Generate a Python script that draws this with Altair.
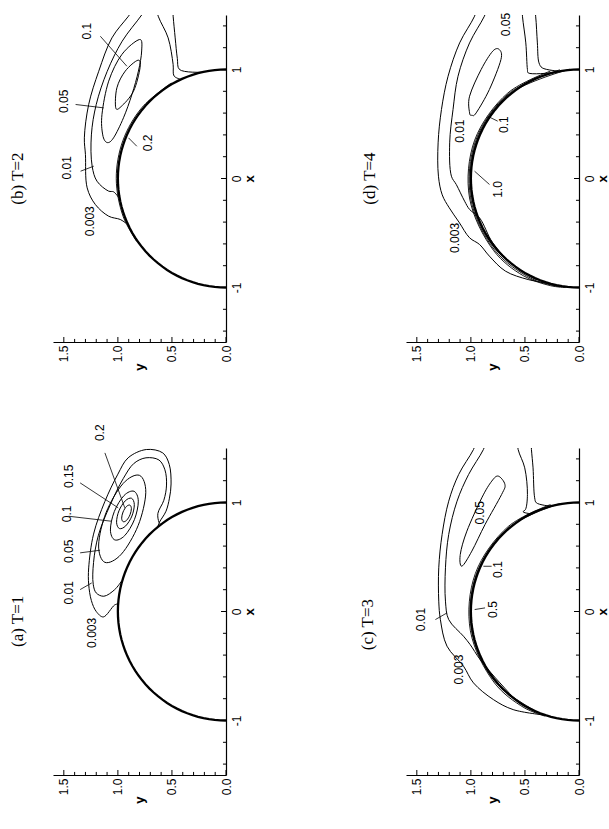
import math
import altair as alt
import pandas as pd

# ------------------------------------------------------------------
# Data: x = position along the flow axis, y = radial distance.
# Each contour is a list of (x, y) points.
# ------------------------------------------------------------------

# ---- (a) T=1 ----
a_003 = [(0.07, 1.00), (0.06, 1.03), (-0.05, 1.135), (0.0, 1.20), (0.10, 1.245), (0.25, 1.27),
         (0.40, 1.27), (0.71, 1.225), (1.01, 1.12), (1.26, 1.00), (1.41, 0.905), (1.486, 0.737),
         (1.455, 0.585), (1.35, 0.525), (1.17, 0.508), (1.04, 0.523), (0.92, 0.555), (0.82, 0.615),
         (0.78, 0.63)]
a_01 = [(0.28, 0.965), (0.20, 1.03), (0.14, 1.13), (0.17, 1.20), (0.25, 1.228), (0.45, 1.225),
        (0.70, 1.18), (0.98, 1.07), (1.22, 0.95), (1.36, 0.85), (1.41, 0.74), (1.39, 0.62),
        (1.30, 0.565), (1.16, 0.55), (1.02, 0.575), (0.90, 0.63), (0.82, 0.62), (0.80, 0.605)]
a_05 = [(1.249, 0.80), (1.174, 0.952), (0.91, 1.108), (0.61, 1.178), (0.451, 1.12),
        (0.526, 0.968), (0.79, 0.812), (1.09, 0.742)]
a_1 = [(1.103, 0.851), (1.064, 0.943), (0.917, 1.033), (0.748, 1.069), (0.657, 1.029),
       (0.696, 0.937), (0.843, 0.847), (1.012, 0.811)]
a_15 = [(1.039, 0.874), (1.015, 0.932), (0.924, 0.99), (0.819, 1.012), (0.761, 0.986),
        (0.785, 0.928), (0.876, 0.87), (0.981, 0.848)]
a_2 = [(0.976, 0.889), (0.963, 0.921), (0.913, 0.952), (0.856, 0.965), (0.824, 0.951),
       (0.837, 0.919), (0.887, 0.888), (0.944, 0.875)]

# ---- (b) T=2 ----
b_003 = [(-0.41, 0.925), (-0.376, 0.978), (-0.346, 1.085), (-0.239, 1.208), (-0.086, 1.284),
         (0.22, 1.30), (0.373, 1.31), (0.679, 1.27), (0.984, 1.177), (1.29, 1.055), (1.489, 0.902),
         (1.62, 0.80), (1.62, 0.50), (1.489, 0.489), (1.29, 0.47), (1.10, 0.45), (1.00, 0.43),
         (0.975, 0.22)]
b_01 = [(-0.178, 0.99), (-0.122, 1.04), (-0.116, 1.085), (-0.025, 1.193), (0.113, 1.238),
        (0.40, 1.245), (0.68, 1.20), (0.98, 1.10), (1.26, 0.96), (1.50, 0.78), (1.62, 0.70),
        (1.62, 0.66), (1.489, 0.627), (1.29, 0.535), (1.046, 0.489), (0.94, 0.48), (0.91, 0.42)]
b_05 = [(1.275, 0.80), (1.17, 0.78), (0.985, 0.81), (0.771, 0.87), (0.557, 0.948), (0.373, 1.04),
        (0.33, 1.10), (0.40, 1.14), (0.588, 1.147), (0.893, 1.085), (1.138, 0.963)]
b_1 = [(1.085, 0.815), (1.016, 0.795), (0.80, 0.856), (0.66, 0.97), (0.65, 1.02),
       (0.832, 1.009), (0.985, 0.932)]

# ---- (c) T=3 ----
c_003 = [(-0.95, 0.32), (-0.9, 0.609), (-0.808, 0.792), (-0.655, 0.976), (-0.502, 1.068),
         (-0.318, 1.221), (-0.074, 1.282), (0.095, 1.297), (0.401, 1.297), (0.707, 1.266),
         (1.012, 1.205), (1.257, 1.113), (1.486, 0.976), (1.62, 0.92), (1.62, 0.45),
         (1.486, 0.44), (1.318, 0.425), (1.043, 0.41), (0.997, 0.394), (0.966, 0.26)]
c_01 = [(-0.93, 0.37), (-0.838, 0.548), (-0.655, 0.731), (-0.44, 0.915), (-0.303, 1.007),
        (-0.227, 1.068), (-0.074, 1.205), (0.095, 1.235), (0.401, 1.235), (0.707, 1.205),
        (1.012, 1.128), (1.257, 1.021), (1.486, 0.884), (1.62, 0.83), (1.62, 0.58),
        (1.486, 0.563), (1.318, 0.502), (1.073, 0.477), (0.936, 0.495), (0.915, 0.517),
        (0.90, 0.47), (0.90, 0.436)]
c_05 = [(1.242, 0.746), (1.165, 0.685), (1.073, 0.716), (0.798, 0.869), (0.554, 0.991),
        (0.416, 1.083), (0.523, 1.098), (0.737, 1.037), (1.043, 0.899), (1.196, 0.807)]

# ---- (d) T=4 ----
d_003 = [(-0.96, 0.29), (-0.927, 0.47), (-0.85, 0.68), (-0.712, 0.829), (-0.605, 0.92),
         (-0.544, 1.012), (-0.40, 1.11), (-0.269, 1.20), (-0.15, 1.265), (0.021, 1.30),
         (0.327, 1.303), (0.633, 1.272), (0.938, 1.211), (1.244, 1.104), (1.489, 0.966),
         (1.62, 0.92), (1.62, 0.42), (1.489, 0.401), (1.244, 0.385), (1.061, 0.37),
         (1.015, 0.34), (0.984, 0.18)]
d_01 = [(-0.926, 0.40), (-0.789, 0.615), (-0.59, 0.798), (-0.361, 0.92), (-0.284, 1.012),
        (-0.208, 1.058), (-0.055, 1.135), (0.021, 1.18), (0.327, 1.196), (0.633, 1.165),
        (0.938, 1.119), (1.244, 1.012), (1.489, 0.875), (1.62, 0.82), (1.62, 0.53),
        (1.489, 0.523), (1.244, 0.492), (1.0, 0.477), (0.969, 0.47), (0.969, 0.263)]
d_05 = [(1.183, 0.737), (1.091, 0.722), (0.816, 0.829), (0.602, 0.951), (0.58, 0.99),
        (0.602, 1.012), (0.755, 1.012), (1.0, 0.905), (1.168, 0.798)]

# contours hugging the cylinder: (angle in degrees from +x, radius)
b_2_polar = [(30, 1.012), (50, 1.014), (70, 1.015), (90, 1.015), (110, 1.013), (125, 1.008)]
c_5_polar = [(10, 1.007), (40, 1.008), (70, 1.009), (100, 1.009), (130, 1.008), (160, 1.006)]
c_1_polar = [(15, 1.016), (40, 1.018), (70, 1.02), (100, 1.02), (130, 1.02), (150, 1.018), (162, 1.01)]
d_10_polar = [(5, 1.006), (40, 1.007), (70, 1.008), (100, 1.008), (130, 1.008), (160, 1.006), (176, 1.003)]
d_05_polar = [(10, 1.013), (40, 1.015), (70, 1.017), (100, 1.018), (130, 1.02), (155, 1.018), (170, 1.008)]
d_01_polar = [(15, 1.02), (40, 1.024), (70, 1.027), (100, 1.028), (130, 1.03), (150, 1.03), (165, 1.018), (173, 1.008)]

circle_angles = list(range(0, 181, 3))

# labels: (x, y, text)
labels = {
    "a": [(1.64, 1.165, "0.2"), (1.241, 1.456, "0.15"), (0.895, 1.47, "0.1"),
          (0.553, 1.456, "0.05"), (0.171, 1.456, "0.01"), (-0.196, 1.242, "0.003")],
    "b": [(1.351, 1.284, "0.1"), (0.709, 1.498, "0.05"), (0.327, 0.718, "0.2"),
          (0.098, 1.468, "0.01"), (-0.392, 1.254, "0.003")],
    "c": [(-0.074, 1.465, "0.01"), (-0.533, 1.114, "0.003"), (0.018, 0.792, "0.5"),
          (0.385, 0.747, "0.1"), (0.905, 0.915, "0.05")],
    "d": [(1.413, 0.675, "0.05"), (0.434, 1.104, "0.01"), (0.495, 0.691, "0.1"),
          (-0.101, 0.752, "1.0"), (-0.545, 1.149, "0.003")],
}
# leader lines: (x start, y start, x end, y end)
leaders = {
    "a": [(1.455, 1.12, 0.951, 0.936), (1.18, 1.349, 0.951, 0.997), (0.874, 1.456, 0.828, 1.059),
          (0.538, 1.349, 0.562, 1.165), (0.201, 1.349, 0.262, 1.242)],
    "b": [(1.305, 1.162, 1.03, 0.917), (0.679, 1.391, 0.648, 1.131), (0.296, 0.825, 0.373, 0.902),
          (0.067, 1.345, 0.113, 1.223)],
    "c": [(-0.074, 1.328, -0.013, 1.221), (0.033, 0.869, 0.018, 0.965), (0.415, 0.808, 0.415, 0.884)],
    "d": [(0.526, 0.752, 0.571, 0.844), (-0.055, 0.828, 0.067, 0.966)],
}
titles = {"a": (-0.09, 1.92, "(a) T=1"), "b": (0.0, 1.92, "(b) T=2"),
          "c": (-0.12, 1.95, "(c) T=3"), "d": (0.0, 1.93, "(d) T=4")}

x_ticks = [-1.4, -1.2, -1.0, -0.8, -0.6, -0.4, -0.2, 0.0, 0.2, 0.4, 0.6, 0.8, 1.0, 1.2, 1.4]
x_major = [-1.0, 0.0, 1.0]
y_ticks = [0.0, 0.1, 0.2, 0.3, 0.4, 0.5, 0.6, 0.7, 0.8, 0.9, 1.0, 1.1, 1.2, 1.3, 1.4, 1.5]
y_major = [0.0, 0.5, 1.0, 1.5]

open_sets = {"a": {"003": a_003, "01": a_01}, "b": {"003": b_003, "01": b_01},
             "c": {"003": c_003, "01": c_01}, "d": {"003": d_003, "01": d_01}}
closed_sets = {"a": {"05": a_05, "1": a_1, "15": a_15, "2": a_2}, "b": {"05": b_05, "1": b_1},
               "c": {"05": c_05}, "d": {"05": d_05}}
hug_sets = {"a": {}, "b": {"2": b_2_polar}, "c": {"5": c_5_polar, "1": c_1_polar},
            "d": {"10": d_10_polar, "05": d_05_polar, "01": d_01_polar}}

# ------------------------------------------------------------------
W, H = 173, 327
xs = alt.Scale(domain=[0, 1.6], reverse=True, nice=False, zero=False)
ys = alt.Scale(domain=[-1.5, 1.5], nice=False, zero=False)
ax_b = alt.Axis(values=y_major, labelExpr="format(datum.value, '.1f')", ticks=False, grid=False,
                labelAngle=270, labelPadding=3, title="y", titleAngle=270, titlePadding=5,
                titleBaseline="middle")
ax_r = alt.Axis(orient="right", values=x_major, labelExpr="'' + datum.value", ticks=False,
                grid=False, labelAngle=270, labelAlign="center", labelBaseline="top",
                labelPadding=5, title="x", titleAngle=270, titleBaseline="top", titlePadding=1)
X = alt.X("y:Q", scale=xs, axis=ax_b)
Y = alt.Y("x:Q", scale=ys, axis=ax_r)

INK = "#000000"


def pts_df(sets, p, polar=False):
    rows = []
    for name, pts in sets.items():
        for i, pt in enumerate(pts):
            if polar:
                th, r = pt
                x, y = r * math.cos(math.radians(th)), r * math.sin(math.radians(th))
            else:
                x, y = pt
            rows.append({"id": f"{p}{name}", "o": i, "x": x, "y": y})
    return pd.DataFrame(rows, columns=["id", "o", "x", "y"])


def panel(p):
    layers = []
    circ = pd.DataFrame({"o": circle_angles,
                         "x": [math.cos(math.radians(t)) for t in circle_angles],
                         "y": [math.sin(math.radians(t)) for t in circle_angles]})
    layers.append(alt.Chart(circ).mark_line(color=INK, strokeWidth=2.3).encode(X, Y, order="o:Q"))
    if hug_sets[p]:
        layers.append(alt.Chart(pts_df(hug_sets[p], p, True)).mark_line(
            color=INK, strokeWidth=0.9, interpolate="catmull-rom").encode(
            X, Y, detail="id:N", order="o:Q"))
    layers.append(alt.Chart(pts_df(open_sets[p], p)).mark_line(
        color=INK, strokeWidth=1.0, interpolate="catmull-rom", clip=True).encode(
        X, Y, detail="id:N", order="o:Q"))
    layers.append(alt.Chart(pts_df(closed_sets[p], p)).mark_line(
        color=INK, strokeWidth=1.0, interpolate="cardinal-closed", clip=True).encode(
        X, Y, detail="id:N", order="o:Q"))
    segs = []
    for t in x_ticks:
        ln = 0.046 if t in x_major else 0.028
        segs.append({"x": t, "y": 0.0, "xe": t, "ye": ln})
    for t in y_ticks:
        ln = 0.046 if t in y_major else 0.028
        segs.append({"x": -1.5, "y": t, "xe": -1.5 + ln, "ye": t})
    tick_df = pd.DataFrame(segs)
    layers.append(alt.Chart(tick_df).mark_rule(color=INK, strokeWidth=1).encode(
        X, Y, x2="ye:Q", y2="xe:Q"))
    if leaders[p]:
        ld = pd.DataFrame(leaders[p], columns=["x", "y", "xe", "ye"])
        layers.append(alt.Chart(ld).mark_rule(color=INK, strokeWidth=0.8).encode(
            X, Y, x2="ye:Q", y2="xe:Q"))
    lb = pd.DataFrame(labels[p], columns=["x", "y", "t"])
    layers.append(alt.Chart(lb).mark_text(angle=270, font="Liberation Sans", fontSize=12,
                                          color=INK).encode(X, Y, text="t:N"))
    tx, ty, tt = titles[p]
    td = pd.DataFrame([{"x": tx, "y": ty, "t": tt}])
    layers.append(alt.Chart(td).mark_text(angle=270, font="Liberation Serif", fontSize=17,
                                          color=INK).encode(X, Y, text="t:N"))
    return alt.layer(*layers).properties(width=W, height=H)


chart = alt.concat(panel("b"), panel("d"), panel("a"), panel("c"), columns=2,
                   spacing={"row": 106, "column": 180}, bounds="flush").properties(
    padding={"left": 9, "top": 12, "right": 0, "bottom": 0}, background="white"
).configure_view(strokeWidth=0, stroke="transparent").configure_axis(
    domainColor=INK, domainWidth=1.2, labelFont="Liberation Sans", labelFontSize=12,
    labelColor=INK, titleFont="Liberation Sans", titleFontSize=13, titleFontWeight="bold",
    titleColor=INK
)

chart.save("out.html", embed_options={"renderer": "svg", "actions": False})
